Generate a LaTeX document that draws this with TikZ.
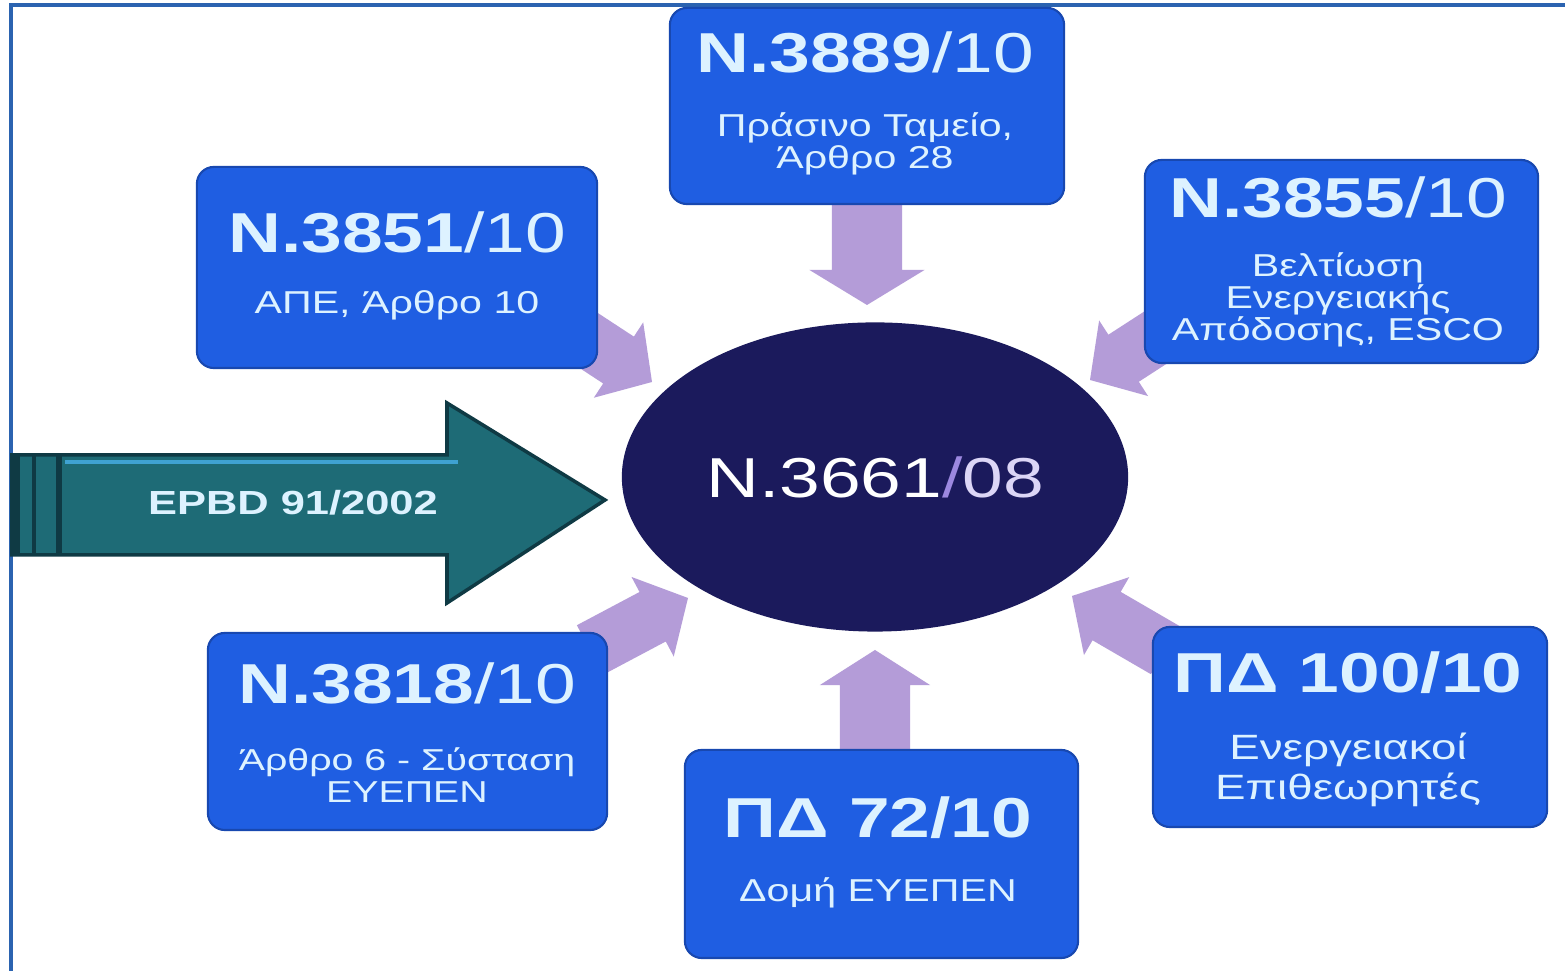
\documentclass[tikz,border=0pt]{standalone}
\usepackage{fontspec}
\setmainfont{Liberation Sans}
\usetikzlibrary{calc,shapes.geometric}
\definecolor{boxblue}{HTML}{1F5EE2}
\definecolor{boxedge}{HTML}{1848B0}
\definecolor{navy}{HTML}{1B1A5C}
\definecolor{lav}{HTML}{B49CD8}
\definecolor{tealfill}{HTML}{1E6B76}
\definecolor{tealdark}{HTML}{0F3A44}
\definecolor{teallight}{HTML}{3FA2D2}
\definecolor{txt}{HTML}{DDF2FF}
\definecolor{slashc}{HTML}{9C88E0}
\definecolor{zeroc}{HTML}{DCD6F6}
\definecolor{framec}{HTML}{2B63B0}
\newcommand\st[1]{\scalebox{1.3}[1]{#1}}
\newcommand\fatarrow[5]{%
  \path ($(#2)!#5!(#1)$) coordinate (fh);
  \fill[arrowfill] ($(#1)!#3!90:(#2)$) -- ($(fh)!#3!90:(#2)$) -- ($(fh)!#4!90:(#2)$)
     -- (#2) -- ($(fh)!#4!-90:(#2)$) -- ($(fh)!#3!-90:(#2)$) -- ($(#1)!#3!-90:(#2)$) -- cycle;
}
\tikzset{
  lawbox/.style={fill=boxblue, draw=boxedge, line width=0.6pt, rounded corners=0.17cm, inner sep=0pt},
  ttl/.style={text=txt, inner sep=0pt, font=\fontsize{16}{18}\selectfont},
  sub/.style={text=txt, inner sep=0pt, align=center, font=\fontsize{9}{9.2}\selectfont},
  arrowfill/.style={fill=lav},
}
\begin{document}
\begin{tikzpicture}[x=0.01cm, y=-0.01cm]
\useasboundingbox (0,0) rectangle (1565,971);
\fill[white] (0,0) rectangle (1565,971);
% frame
\draw[framec, line width=0.9pt] (11,971) -- (11,5) -- (1565,5);

% central ellipse
\node[ellipse, fill=navy, minimum width=5.06cm, minimum height=3.09cm, inner sep=0pt,
      text=white, font=\fontsize{16}{18}\selectfont] (c) at (875,477)
      {\st{N.3661\textcolor{slashc}{/}\textcolor{zeroc}{08}}};

% arrow end points
\coordinate (a1tail) at (867,204);
\coordinate (a1tip) at (867,305);
\coordinate (a6tip) at (875,650);
\coordinate (a6tail) at (875,752);
\coordinate (a2tail) at (565,325);
\coordinate (a2tip) at (652,382);
\coordinate (a3tail) at (1175,325);
\coordinate (a3tip) at (1090,380);
\coordinate (a4tail) at (590,650);
\coordinate (a4tip) at (688,598);
\coordinate (a5tail) at (1165,650);
\coordinate (a5tip) at (1072,596);

% purple arrows (drawn under boxes)
\fatarrow{a1tail}{a1tip}{0.35cm}{0.575cm}{0.35cm}
\fatarrow{a6tail}{a6tip}{0.35cm}{0.55cm}{0.35cm}
\fatarrow{a2tail}{a2tip}{0.28cm}{0.45cm}{0.4cm}
\fatarrow{a3tail}{a3tip}{0.28cm}{0.45cm}{0.4cm}
\fatarrow{a4tail}{a4tip}{0.28cm}{0.45cm}{0.4cm}
\fatarrow{a5tail}{a5tip}{0.28cm}{0.45cm}{0.4cm}

% law boxes
\node[lawbox, minimum width=3.94cm, minimum height=1.96cm] (b1) at (867,106) {};
\node[lawbox, minimum width=4.00cm, minimum height=2.01cm] (b2) at (397,267.5) {};
\node[lawbox, minimum width=3.93cm, minimum height=2.03cm] (b3) at (1341.5,261.5) {};
\node[lawbox, minimum width=3.99cm, minimum height=1.97cm] (b4) at (407.5,731.5) {};
\node[lawbox, minimum width=3.94cm, minimum height=2.00cm] (b5) at (1350,727) {};
\node[lawbox, minimum width=3.93cm, minimum height=2.08cm] (b6) at (881.5,854) {};

% titles
\node[ttl] (t1) at (865,52) {\st{\textbf{N.3889}/10}};
\node[ttl] (t2) at (397,232) {\st{\textbf{N.3851}/10}};
\node[ttl] (t3) at (1338,197) {\st{\textbf{N.3855}/10}};
\node[ttl] (t4) at (407,683) {\st{\textbf{N.3818}/10}};
\node[ttl] (t5) at (1348,673) {\st{\textbf{ΠΔ 100/10}}};
\node[ttl] (t6) at (878,818) {\st{\textbf{ΠΔ 72/10}}};

% subtitles
\node[sub] (s1) at (865,144) {\st{Πράσινο Ταμείο,}\\\st{Άρθρο 28}};
\node[sub] (s2) at (397,305) {\st{ΑΠΕ, Άρθρο 10}};
\node[sub] (s3) at (1338,300) {\st{Βελτίωση}\\\st{Ενεργειακής}\\\st{Απόδοσης, ESCO}};
\node[sub, font=\fontsize{8.6}{9.2}\selectfont] (s4) at (407,775) {\st{Άρθρο 6 - Σύσταση}\\\st{ΕΥΕΠΕΝ}};
\node[sub, font=\fontsize{10}{11.4}\selectfont] (s5) at (1348,770) {\st{Ενεργειακοί}\\\st{Επιθεωρητές}};
\node[sub] (s6) at (878,893) {\st{Δομή ΕΥΕΠΕΝ}};

% EPBD teal arrow
\filldraw[fill=tealfill, draw=tealdark, line width=1pt, line join=miter]
  (12,455) -- (447,455) -- (447,403) -- (605,500) -- (447,603) -- (447,555) -- (12,555) -- cycle;
\draw[teallight, line width=1.2pt] (65,462) -- (458,462);
\draw[tealdark, line width=2.2pt] (16,456) -- (16,554);
\draw[tealdark, line width=1.2pt] (34,456) -- (34,554);
\draw[tealdark, line width=1.8pt] (59,456) -- (59,554);
\node[text=txt, inner sep=0pt, font=\fontsize{9.5}{11}\selectfont\bfseries] (epbd) at (293,503) {\st{EPBD 91/2002}};
\end{tikzpicture}
\end{document}
